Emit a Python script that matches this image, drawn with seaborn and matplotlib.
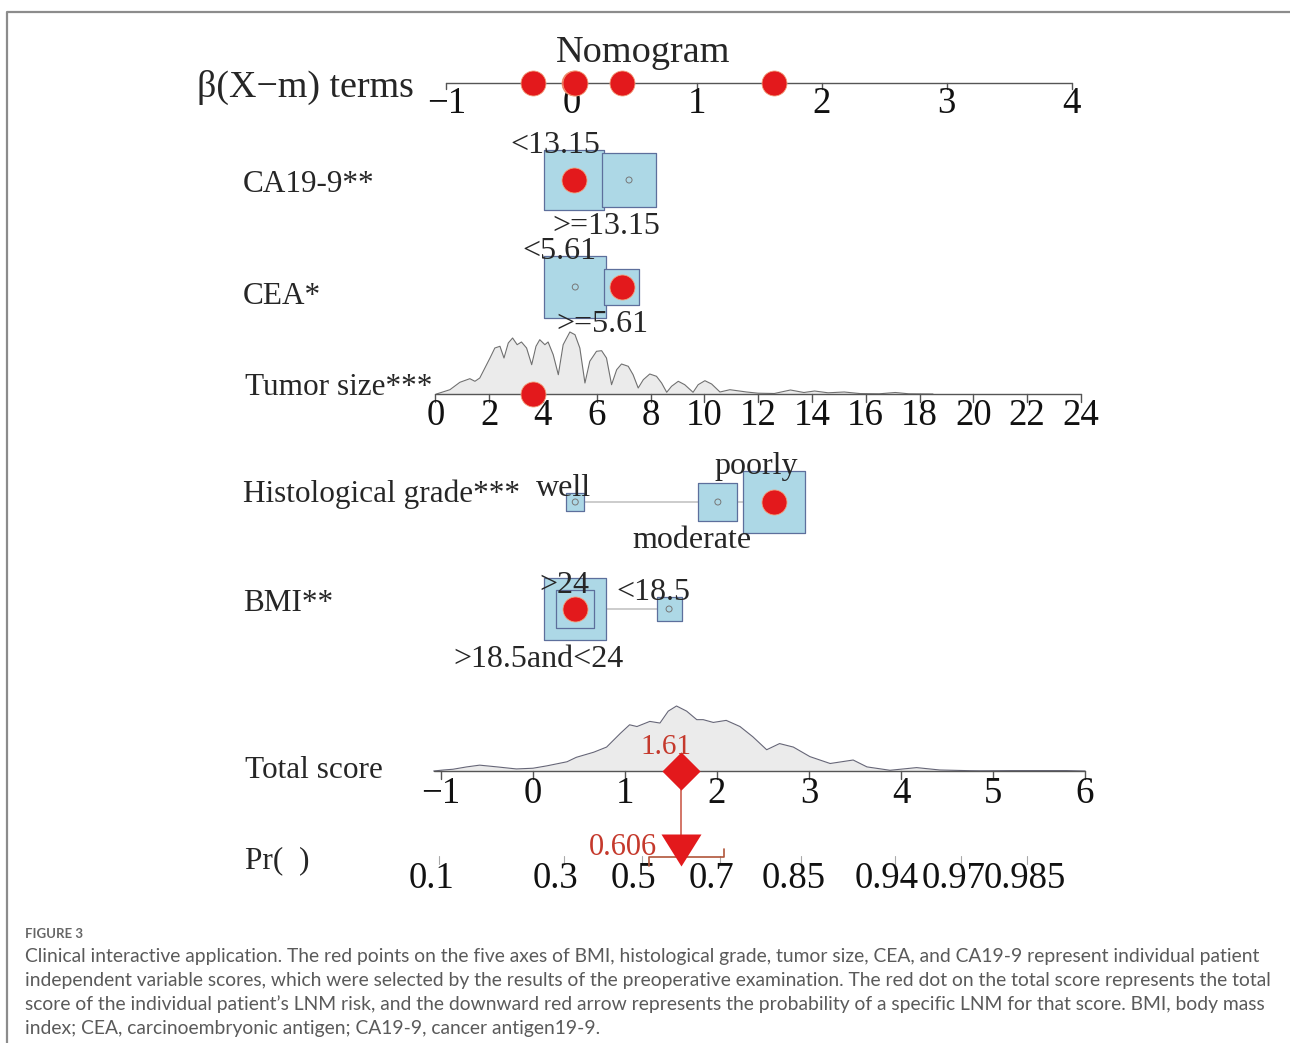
#Nomogram (regplot style) with patient scores and figure caption

# Load Packages=====================================================================================
import numpy as np
import seaborn as sns
import matplotlib.pyplot as plt
from matplotlib.lines import Line2D
from matplotlib.textpath import TextPath
from matplotlib.font_manager import FontProperties


# Data==============================================================================================
beta_ticks = [-1, 0, 1, 2, 3, 4]

ca199_levels = ['<13.15', '>=13.15']
ca199_beta = [0.02, 0.46]
ca199_freq = [0.62, 0.50]
ca199_pick = '<13.15'

cea_levels = ['<5.61', '>=5.61']
cea_beta = [0.03, 0.40]
cea_freq = [0.67, 0.22]
cea_pick = '>=5.61'

grade_levels = ['well', 'moderate', 'poorly']
grade_beta = [0.03, 1.17, 1.62]
grade_freq = [0.056, 0.26, 0.665]
grade_pick = 'poorly'

bmi_levels = ['>18.5and<24', '>24', '<18.5']
bmi_beta = [0.03, 0.03, 0.78]
bmi_freq = [0.665, 0.25, 0.108]
bmi_pick = '>18.5and<24'

#tumor size: beta = coef * (size - mean)
tumor_coef = 0.215
tumor_mean = 5.06
tumor_pick = 3.62
tumor_ticks = [0, 2, 4, 6, 8, 10, 12, 14, 16, 18, 20, 22, 24]
tumor_size = [0.04, 0.54, 0.91, 1.28, 1.47, 1.65, 1.84, 2.03, 2.21, 2.40, 2.55, 2.71, 2.87, 3.04,
              3.20, 3.39, 3.58, 3.74, 3.88, 4.07, 4.19, 4.38, 4.57, 4.75, 5.00, 5.19, 5.37, 5.56,
              5.74, 5.99, 6.18, 6.36, 6.55, 6.74, 6.92, 7.17, 7.35, 7.54, 7.73, 7.97, 8.22, 8.41,
              8.60, 8.78, 9.03, 9.27, 9.58, 9.77, 10.02, 10.27, 10.58, 10.95, 11.57, 12.0, 12.6,
              13.2, 13.7, 14.1, 14.6, 15.2, 15.8, 16.5, 17.1, 17.6, 18.5]
tumor_dens = [0, 4.3, 11.7, 15.3, 12.7, 16, 26, 36, 46, 47.7, 36, 51, 56, 49.3,
              52, 46, 29.3, 47.7, 54.3, 49.3, 52, 39.3, 19.3, 49.3, 62, 59.3, 46, 11,
              32.7, 42.7, 43.3, 36, 9.3, 24.3, 30, 27.7, 19.3, 6, 14.3, 20, 17.7, 11,
              1.7, 7.7, 12.7, 9.3, 1.7, 9.3, 13.3, 10, 2, 4.3, 2, 0.8, 0.5,
              4, 1.5, 3, 1.2, 2, 0.4, 0.2, 1.5, 0.2, 0]

total_ticks = [-1, 0, 1, 2, 3, 4, 5, 6]
total_score = [-1.08, -0.97, -0.87, -0.72, -0.58, -0.39, -0.18, 0.00, 0.15, 0.37, 0.47, 0.66,
               0.80, 0.95, 1.05, 1.13, 1.27, 1.38, 1.47, 1.56, 1.67, 1.78, 1.85, 1.96, 2.10,
               2.25, 2.39, 2.54, 2.68, 2.83, 3.01, 3.23, 3.48, 3.63, 3.88, 4.17, 4.42, 4.75,
               4.86, 5.2, 5.8, 6.0]
total_dens = [0, 1, 1.7, 4, 5.7, 4, 2, 2.7, 5, 9, 13.3, 18.3,
              23.3, 36.7, 45, 43.3, 48.3, 46.7, 58.3, 63.3, 58.3, 50, 50, 47.3, 49.3,
              43.3, 33.3, 20.7, 26.7, 23.3, 14, 7.3, 10.7, 4, 0.7, 3.3, 1, 0.3,
              0.2, 0.4, 0.4, 0]

patient_total = 1.61
pr_ticks = [0.1, 0.3, 0.5, 0.7, 0.85, 0.94, 0.97, 0.985]
pr_intercept = -1.18
pr_slope = 1.0
patient_pr = 0.606
pr_ci = [0.52, 0.71]

caption_head = 'FIGURE 3'
caption_lines = [
  'Clinical interactive application. The red points on the five axes of BMI, histological grade, tumor size, CEA, and CA19-9 represent individual patient',
  'independent variable scores, which were selected by the results of the preoperative examination. The red dot on the total score represents the total',
  'score of the individual patient\u2019s LNM risk, and the downward red arrow represents the probability of a specific LNM for that score. BMI, body mass',
  'index; CEA, carcinoembryonic antigen; CA19-9, cancer antigen19-9.',
]


# Layout / style====================================================================================
W, H = 1290, 1043
BETA_X0, BETA_PX = 571.5, 125.1      #pixel of beta=0, pixels per beta unit
TOT_X0, TOT_PX = 533.0, 92.0         #pixel of total=0, pixels per total unit
BOX_K = 76                           #box side (px) = BOX_K * sqrt(freq)

RED = '#e3191c'
RED_TXT = '#c5392c'
BOX_FC = '#add8e6'
BOX_EC = '#5d6f9c'
AXIS_C = '#555555'
SERIF = ['Liberation Serif', 'DejaVu Serif']

sns.set_theme(style='white')
plt.rcParams['font.family'] = SERIF

fig = plt.figure(figsize=(W / 100, H / 100), dpi=100)
ax = fig.add_axes([0, 0, 1, 1])
ax2 = fig.add_axes([0, 0, 1, 1])
for a in (ax, ax2):
  a.axis('off')
  a.patch.set_alpha(0)

px_b = lambda p: p / BETA_PX          #pixel distance -> beta units
px_t = lambda p: p / TOT_PX           #pixel distance -> total units
pt2 = lambda px: (px * 0.72) ** 2     #pixel diameter -> scatter size


def text_width_px(s, size):
  tp = TextPath((0, 0), s, prop=FontProperties(family=SERIF, size=size))
  return tp.get_extents().width * 100 / 72


def draw_axis(a, lo, hi, y, ticks, labels, label_base, tick_len=8, fs=26.5):
  a.plot([lo, hi], [y, y], color=AXIS_C, lw=1.0, zorder=2)
  for t, lab in zip(ticks, labels):
    a.plot([t, t], [y, y + tick_len], color=AXIS_C, lw=1.0, zorder=2)
    a.text(t, label_base, lab, ha='center', va='baseline', fontsize=fs, color='#111111')


def fmt(v):
  return ('\u2212' + str(abs(v))) if v < 0 else str(v)


## Title and beta row
ax.text(px_b(643 - BETA_X0), 62, 'Nomogram', ha='center', va='baseline', fontsize=27.5)
ax.text(px_b(414 - BETA_X0), 97, '\u03b2(X\u2212m) terms', ha='right', va='baseline', fontsize=27.4)
draw_axis(ax, beta_ticks[0], beta_ticks[-1], 83, beta_ticks, [fmt(t) for t in beta_ticks], 113,
          tick_len=6)


## Categorical rows
def cat_row(levels, betas, freqs, pick, y, sides, name, name_y):
  ax.text(px_b(243 - BETA_X0), name_y, name, ha='left', va='baseline', fontsize=22.5)
  ax.plot([min(betas), max(betas)], [y, y], color='#c8c8c8', lw=1.3, zorder=2)
  sides_px = [BOX_K * np.sqrt(f) for f in freqs]
  sns.scatterplot(x=betas, y=[y] * len(betas), s=[pt2(p) for p in sides_px], marker='s',
                  color=BOX_FC, edgecolor=BOX_EC, linewidth=0.9, ax=ax, zorder=3)
  sns.scatterplot(x=betas, y=[y] * len(betas), s=pt2(6), marker='o', facecolor='none',
                  edgecolor='#777777', linewidth=0.7, ax=ax, zorder=4)
  for lab, b, side, sp in zip(levels, betas, sides, sides_px):
    w = text_width_px(lab, 23)
    if side == 'above':
      yy = y - sp / 2 + 3
    else:
      yy = y + sp / 2 + 27
    ax.text(b - px_b(0.22 * w), yy, lab, ha='center', va='baseline', fontsize=23, zorder=6)
  b_pick = betas[levels.index(pick)]
  sns.scatterplot(x=[b_pick], y=[y], s=pt2(25), color=RED, edgecolor='#f3a07c', linewidth=0.6,
                  ax=ax, zorder=5)
  return b_pick


b_ca = cat_row(ca199_levels, ca199_beta, ca199_freq, ca199_pick, 180, ['above', 'below'],
               'CA19-9**', 192)
b_cea = cat_row(cea_levels, cea_beta, cea_freq, cea_pick, 287, ['above', 'below'], 'CEA*', 304)
b_gr = cat_row(grade_levels, grade_beta, grade_freq, grade_pick, 502, ['above', 'below', 'above'],
               'Histological grade***', 502)
b_bmi = cat_row(bmi_levels, bmi_beta, bmi_freq, bmi_pick, 609, ['below', 'above', 'above'],
                'BMI**', 611)


## Tumor size row (continuous, with density)
TUM_Y = 394
tum_b = [tumor_coef * (s - tumor_mean) for s in tumor_size]
tum_h = np.array(tumor_dens) / max(tumor_dens) * 62
ax.fill_between(tum_b, TUM_Y, TUM_Y - tum_h, color='#ebebeb', lw=0, zorder=1)
sns.lineplot(x=tum_b, y=TUM_Y - tum_h, sort=False, estimator=None, color='#707070', lw=0.8,
             ax=ax, zorder=1.5)
draw_axis(ax, tumor_coef * (tumor_ticks[0] - tumor_mean), tumor_coef * (tumor_ticks[-1] - tumor_mean),
          TUM_Y, [tumor_coef * (t - tumor_mean) for t in tumor_ticks], [str(t) for t in tumor_ticks],
          425)
ax.text(px_b(245 - BETA_X0), 395, 'Tumor size***', ha='left', va='baseline', fontsize=22.5)
b_tum = tumor_coef * (tumor_pick - tumor_mean)
sns.scatterplot(x=[b_tum], y=[TUM_Y], s=pt2(25), color=RED, edgecolor='#f3a07c', linewidth=0.6,
                ax=ax, zorder=5)

## red dots on beta axis
picks = [b_ca, b_cea, b_tum, b_gr, b_bmi]
sns.scatterplot(x=picks, y=[83] * len(picks), s=pt2(25), color=RED, edgecolor='#f3a07c',
                linewidth=0.6, ax=ax, zorder=5)


## Total score row
TOT_Y = 771
tot_h = np.array(total_dens) / max(total_dens) * 65
ax2.fill_between(total_score, TOT_Y, TOT_Y - tot_h, color='#ebebeb', lw=0, zorder=1)
sns.lineplot(x=total_score, y=TOT_Y - tot_h, sort=False, estimator=None, color='#666677', lw=0.8,
             ax=ax2, zorder=1.5)
draw_axis(ax2, total_score[0], total_ticks[-1], TOT_Y, total_ticks, [fmt(t) for t in total_ticks],
          803)
ax2.text(px_t(245 - TOT_X0), 778, 'Total score', ha='left', va='baseline', fontsize=22.5)
ax2.text(px_t(245 - TOT_X0), 868, 'Pr(  )', ha='left', va='baseline', fontsize=22.5)

## Pr row
logit = lambda p: np.log(p / (1 - p))
to_total = lambda p: (logit(p) - pr_intercept) / pr_slope
prev_right = -1e9
for p in pr_ticks:
  t = to_total(p)
  ax2.plot([t, t], [856, 864], color='#aaaaaa', lw=0.8, zorder=1)
  lab = str(p)
  w = text_width_px(lab, 26.5)
  cx = TOT_X0 + t * TOT_PX - 8
  if cx - w / 2 < prev_right:          #push crowded labels to the right
    cx = prev_right + w / 2
  prev_right = cx + w / 2
  ax2.text(px_t(cx - TOT_X0), 888, lab, ha='center', va='baseline', fontsize=26.5, color='#111111')

#confidence bracket
lo, hi = to_total(pr_ci[0]), to_total(pr_ci[1])
ax2.plot([lo, lo, hi, hi], [866, 857, 857, 849], color='#b0553a', lw=1.2, zorder=3)

#patient marks
ax2.plot([patient_total, patient_total], [TOT_Y, 836], color='#c8503f', lw=1.1, zorder=3)
sns.scatterplot(x=[patient_total], y=[TOT_Y], s=pt2(27), marker='D', color=RED, linewidth=0,
                ax=ax2, zorder=5)
tri = [(-1, 0.8), (1, 0.8), (0, -0.8)]
sns.scatterplot(x=[to_total(patient_pr)], y=[849.5], s=pt2(40), marker=tri, color=RED,
                linewidth=0, ax=ax2, zorder=5)
ax2.text(patient_total - px_t(15), 754, f'{patient_total:.2f}', ha='center', va='baseline',
         fontsize=21, color=RED_TXT, zorder=6)
ax2.text(to_total(patient_pr) - px_t(24), 855, f'{patient_pr:.3f}', ha='right', va='baseline',
         fontsize=22, color=RED_TXT, zorder=6)


## Limits
ax.set_xlim(-BETA_X0 / BETA_PX, (W - BETA_X0) / BETA_PX)
ax.set_ylim(H, 0)
ax2.set_xlim(-TOT_X0 / TOT_PX, (W - TOT_X0) / TOT_PX)
ax2.set_ylim(H, 0)
for a in (ax, ax2):
  leg = a.get_legend()
  if leg is not None:
    leg.remove()


## Frame and caption
fig.add_artist(Line2D([7 / W, 7 / W, 1.0], [0.0, 1 - 12 / H, 1 - 12 / H], transform=fig.transFigure,
                      color='#8c8c8c', lw=1.6))
fig.text(25 / W, 1 - 938 / H, caption_head, ha='left', va='baseline', fontsize=9.5,
         color='#666666', family=['Lato', 'DejaVu Sans'], fontweight='bold')
for i, line in enumerate(caption_lines):
  fig.text(25 / W, 1 - (962 + 24 * i) / H, line, ha='left', va='baseline', fontsize=13.9,
           color='#5a5a5a', family=['Lato', 'DejaVu Sans'])

fig.savefig('out.png', dpi=100)
